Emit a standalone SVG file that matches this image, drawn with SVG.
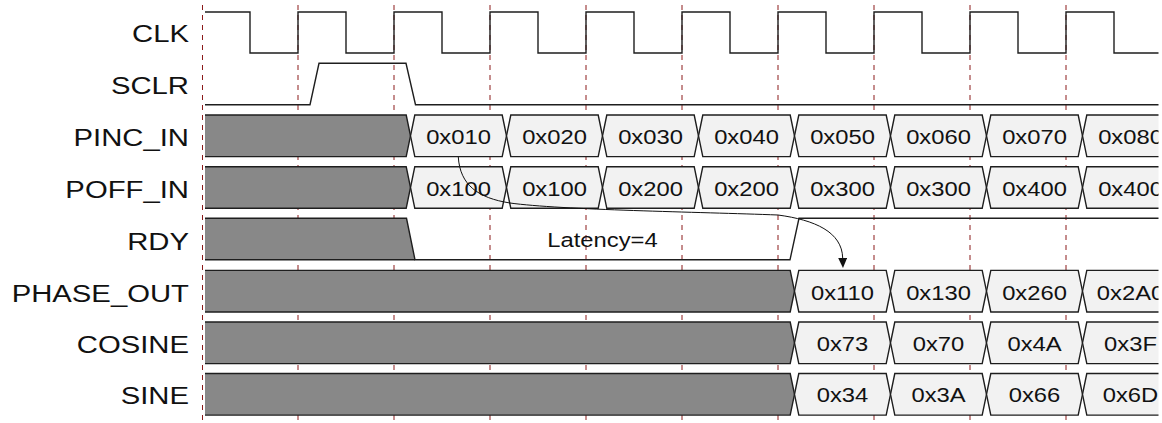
<svg xmlns="http://www.w3.org/2000/svg" xmlns:xlink="http://www.w3.org/1999/xlink" width="1162" height="423" viewBox="0 0 1162 423">
<style>
.lbl{font-family:"Liberation Sans",Arial,sans-serif;font-size:24.2px;fill:#111;text-anchor:end}
.val{font-family:"Liberation Sans",Arial,sans-serif;font-size:20.5px;fill:#111;text-anchor:middle}
.wave{fill:none;stroke:#1e1e1e;stroke-width:1.4}
.gray{fill:#888888;stroke:#1e1e1e;stroke-width:1.4}
.box{fill:#f2f2f2;stroke:#1e1e1e;stroke-width:1.4}
.grid{stroke:#8b1a1a;stroke-width:1;stroke-dasharray:5 5}
.conn{fill:none;stroke:#111;stroke-width:1}
</style>
<defs>
<clipPath id="clip"><rect x="0" y="0" width="1158.5" height="423"/></clipPath>
<path id="hex" d="M4.3,0 H91.7 L96,20.8 L91.7,41.6 H4.3 L0,20.8 Z"/>
<marker id="arr" markerUnits="userSpaceOnUse" markerWidth="10" markerHeight="9" refX="0" refY="4.5" orient="auto">
<path d="M0,0 L10,4.5 L0,9 Z" fill="#111"/>
</marker>
</defs>
<g id="gridlines">
<line class="grid" x1="202.5" y1="5" x2="202.5" y2="423"/>
<line class="grid" x1="298" y1="5" x2="298" y2="423"/>
<line class="grid" x1="394" y1="5" x2="394" y2="423"/>
<line class="grid" x1="490" y1="5" x2="490" y2="423"/>
<line class="grid" x1="586" y1="5" x2="586" y2="423"/>
<line class="grid" x1="682" y1="5" x2="682" y2="423"/>
<line class="grid" x1="778" y1="5" x2="778" y2="423"/>
<line class="grid" x1="874" y1="5" x2="874" y2="423"/>
<line class="grid" x1="970" y1="5" x2="970" y2="423"/>
<line class="grid" x1="1066" y1="5" x2="1066" y2="423"/>
</g>
<g clip-path="url(#clip)">
<g id="CLK">
<text class="lbl" transform="translate(189,42) scale(1.21,1)">CLK</text>
<path class="wave" d="M205,12 H250 V53 H298 V12 H346 V53 H394 V12 H442 V53 H490 V12 H538 V53 H586 V12 H634 V53 H682 V12 H730 V53 H778 V12 H826 V53 H874 V12 H922 V53 H970 V12 H1018 V53 H1066 V12 H1114 V53 H1160"/>
</g>
<g id="SCLR">
<text class="lbl" transform="translate(189,94) scale(1.21,1)">SCLR</text>
<path class="wave" d="M205,104.7 H310 L319,63.3 H406 L415.5,104.7 H1160"/>
</g>
<g id="PINC_IN">
<text class="lbl" transform="translate(189,146) scale(1.21,1)">PINC_IN</text>
<path class="gray" d="M205,115 H406.2 L410.5,135.8 L406.2,156.6 H205"/>
<use class="box" href="#hex" x="410.5" y="115"/>
<use class="box" href="#hex" x="506.5" y="115"/>
<use class="box" href="#hex" x="602.5" y="115"/>
<use class="box" href="#hex" x="698.5" y="115"/>
<use class="box" href="#hex" x="794.5" y="115"/>
<use class="box" href="#hex" x="890.5" y="115"/>
<use class="box" href="#hex" x="986.5" y="115"/>
<use class="box" href="#hex" x="1082.5" y="115"/>
<text class="val" transform="translate(458.5,144) scale(1.16,1)">0x010</text>
<text class="val" transform="translate(554.5,144) scale(1.16,1)">0x020</text>
<text class="val" transform="translate(650.5,144) scale(1.16,1)">0x030</text>
<text class="val" transform="translate(746.5,144) scale(1.16,1)">0x040</text>
<text class="val" transform="translate(842.5,144) scale(1.16,1)">0x050</text>
<text class="val" transform="translate(938.5,144) scale(1.16,1)">0x060</text>
<text class="val" transform="translate(1034.5,144) scale(1.16,1)">0x070</text>
<text class="val" transform="translate(1130.5,144) scale(1.16,1)">0x080</text>
</g>
<g id="POFF_IN">
<text class="lbl" transform="translate(189,198) scale(1.21,1)">POFF_IN</text>
<path class="gray" d="M205,166.7 H406.2 L410.5,187.5 L406.2,208.3 H205"/>
<use class="box" href="#hex" x="410.5" y="166.7"/>
<use class="box" href="#hex" x="506.5" y="166.7"/>
<use class="box" href="#hex" x="602.5" y="166.7"/>
<use class="box" href="#hex" x="698.5" y="166.7"/>
<use class="box" href="#hex" x="794.5" y="166.7"/>
<use class="box" href="#hex" x="890.5" y="166.7"/>
<use class="box" href="#hex" x="986.5" y="166.7"/>
<use class="box" href="#hex" x="1082.5" y="166.7"/>
<text class="val" transform="translate(458.5,195.8) scale(1.16,1)">0x100</text>
<text class="val" transform="translate(554.5,195.8) scale(1.16,1)">0x100</text>
<text class="val" transform="translate(650.5,195.8) scale(1.16,1)">0x200</text>
<text class="val" transform="translate(746.5,195.8) scale(1.16,1)">0x200</text>
<text class="val" transform="translate(842.5,195.8) scale(1.16,1)">0x300</text>
<text class="val" transform="translate(938.5,195.8) scale(1.16,1)">0x300</text>
<text class="val" transform="translate(1034.5,195.8) scale(1.16,1)">0x400</text>
<text class="val" transform="translate(1130.5,195.8) scale(1.16,1)">0x400</text>
</g>
<g id="RDY">
<text class="lbl" transform="translate(189,250) scale(1.21,1)">RDY</text>
<path d="M205,218.3 H406.5 L415,259.8 H205 Z" fill="#888888"/>
<path class="wave" d="M205,218.3 H406.5 L415,259.8 H790 L799,218.3 H1160"/>
<path class="wave" d="M205,259.8 H415"/>
<text class="val" transform="translate(602.5,247) scale(1.16,1)" font-size="20">Latency=4</text>
</g>
<g id="PHASE_OUT">
<text class="lbl" transform="translate(189,302) scale(1.21,1)">PHASE_OUT</text>
<path class="gray" d="M205,270.4 H790.2 L794.5,291.2 L790.2,312 H205"/>
<use class="box" href="#hex" x="794.5" y="270.4"/>
<use class="box" href="#hex" x="890.5" y="270.4"/>
<use class="box" href="#hex" x="986.5" y="270.4"/>
<use class="box" href="#hex" x="1082.5" y="270.4"/>
<text class="val" transform="translate(842.5,299.6) scale(1.16,1)">0x110</text>
<text class="val" transform="translate(938.5,299.6) scale(1.16,1)">0x130</text>
<text class="val" transform="translate(1034.5,299.6) scale(1.16,1)">0x260</text>
<text class="val" transform="translate(1130.5,299.6) scale(1.16,1)">0x2A0</text>
</g>
<g id="COSINE">
<text class="lbl" transform="translate(189,353) scale(1.21,1)">COSINE</text>
<path class="gray" d="M205,322 H790.2 L794.5,342.8 L790.2,363.6 H205"/>
<use class="box" href="#hex" x="794.5" y="322"/>
<use class="box" href="#hex" x="890.5" y="322"/>
<use class="box" href="#hex" x="986.5" y="322"/>
<use class="box" href="#hex" x="1082.5" y="322"/>
<text class="val" transform="translate(842.5,350.8) scale(1.16,1)">0x73</text>
<text class="val" transform="translate(938.5,350.8) scale(1.16,1)">0x70</text>
<text class="val" transform="translate(1034.5,350.8) scale(1.16,1)">0x4A</text>
<text class="val" transform="translate(1130.5,350.8) scale(1.16,1)">0x3F</text>
</g>
<g id="SINE">
<text class="lbl" transform="translate(189,404) scale(1.21,1)">SINE</text>
<path class="gray" d="M205,373.5 H790.2 L794.5,394.3 L790.2,415.1 H205"/>
<use class="box" href="#hex" x="794.5" y="373.5"/>
<use class="box" href="#hex" x="890.5" y="373.5"/>
<use class="box" href="#hex" x="986.5" y="373.5"/>
<use class="box" href="#hex" x="1082.5" y="373.5"/>
<text class="val" transform="translate(842.5,402.4) scale(1.16,1)">0x34</text>
<text class="val" transform="translate(938.5,402.4) scale(1.16,1)">0x3A</text>
<text class="val" transform="translate(1034.5,402.4) scale(1.16,1)">0x66</text>
<text class="val" transform="translate(1130.5,402.4) scale(1.16,1)">0x6D</text>
</g>
<g id="connectors">
<path class="conn" marker-end="url(#arr)" d="M458.3,157 C460,185 478,198 510,203 C560,210 700,212 778,215 C815,220 842,232 842.7,258"/>
</g>
</g>
</svg>
